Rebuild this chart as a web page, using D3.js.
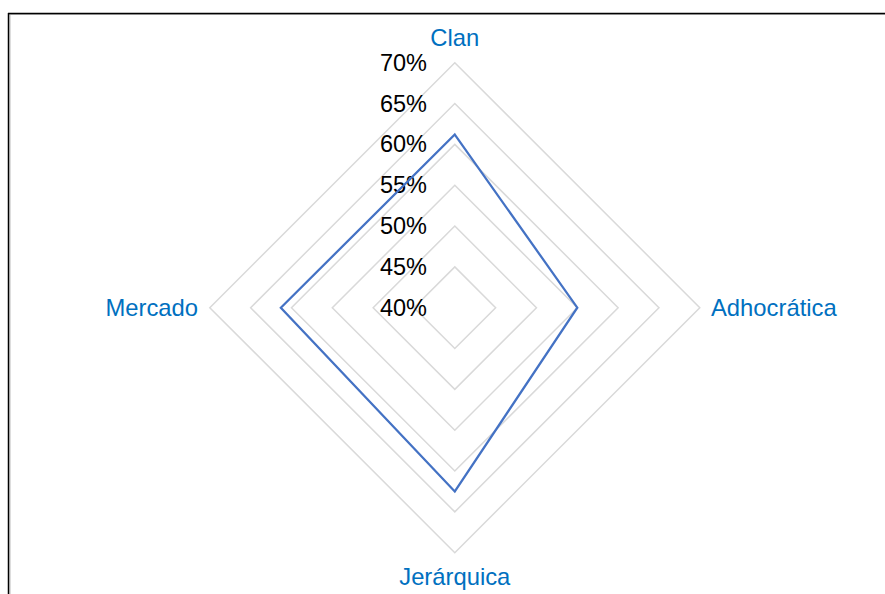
<!DOCTYPE html>
<html><head><meta charset="utf-8">
<script src="https://cdn.jsdelivr.net/npm/d3@7"></script>
<style>html,body{margin:0;padding:0;background:#fff;overflow:hidden}</style>
</head><body>
<svg id="chart" width="885" height="594"></svg>
<script>
const categories = ["Clan", "Adhocrática", "Jerárquica", "Mercado"];
const values = [61.2, 55.0, 62.5, 61.3];
const tickValues = [40, 45, 50, 55, 60, 65, 70];
const tickLabels = ["40%", "45%", "50%", "55%", "60%", "65%", "70%"];

const svg = d3.select("#chart");
const cx = 454.8, cy = 307.7, R = 245;
const r = d3.scaleLinear().domain([40, 70]).range([0, R]);
const angle = d3.scaleLinear().domain([0, categories.length]).range([0, 2 * Math.PI]);
const pt = (i, v) => [cx + r(v) * Math.sin(angle(i)), cy - r(v) * Math.cos(angle(i))];
const font = "'Liberation Sans', Arial, sans-serif";

// frame
svg.append("line").attr("x1", 9).attr("y1", 14.5).attr("x2", 885).attr("y2", 14.5)
  .attr("stroke", "#bbb").attr("stroke-width", 1);
svg.append("line").attr("x1", 10).attr("y1", 14).attr("x2", 10).attr("y2", 594)
  .attr("stroke", "#bbb").attr("stroke-width", 1);
svg.append("line").attr("x1", 8).attr("y1", 13.5).attr("x2", 885).attr("y2", 13.5)
  .attr("stroke", "#000").attr("stroke-width", 1.5);
svg.append("line").attr("x1", 8.5).attr("y1", 13).attr("x2", 8.5).attr("y2", 594)
  .attr("stroke", "#000").attr("stroke-width", 1.5);

// grid rings
const line = d3.line().curve(d3.curveLinearClosed);
svg.append("g").selectAll("path").data(tickValues.filter(t => t > 40)).join("path")
  .attr("d", t => line(categories.map((c, i) => pt(i, t))))
  .attr("fill", "none").attr("stroke", "#d9d9d9").attr("stroke-width", 1.5);

// tick labels
svg.append("g").selectAll("text").data(tickValues).join("text")
  .attr("x", 427).attr("y", t => cy - r(t) + 8)
  .attr("text-anchor", "end").attr("font-family", font).attr("font-size", 23.5)
  .attr("fill", "#000").text((t, i) => tickLabels[i]);

// data polygon
svg.append("path").attr("d", line(values.map((v, i) => pt(i, v))))
  .attr("fill", "none").attr("stroke", "#4472C4").attr("stroke-width", 2.25)
  .attr("stroke-linejoin", "miter");

// category labels
const labelPos = [
  {x: cx, y: 46, a: "middle"},
  {x: 711, y: 316, a: "start"},
  {x: cx, y: 585, a: "middle"},
  {x: 198, y: 316, a: "end"}
];
svg.append("g").selectAll("text").data(categories).join("text")
  .attr("x", (d, i) => labelPos[i].x).attr("y", (d, i) => labelPos[i].y)
  .attr("text-anchor", (d, i) => labelPos[i].a)
  .attr("font-family", font).attr("font-size", 23.8).attr("fill", "#0070C0")
  .text(d => d);
</script>
</body></html>
